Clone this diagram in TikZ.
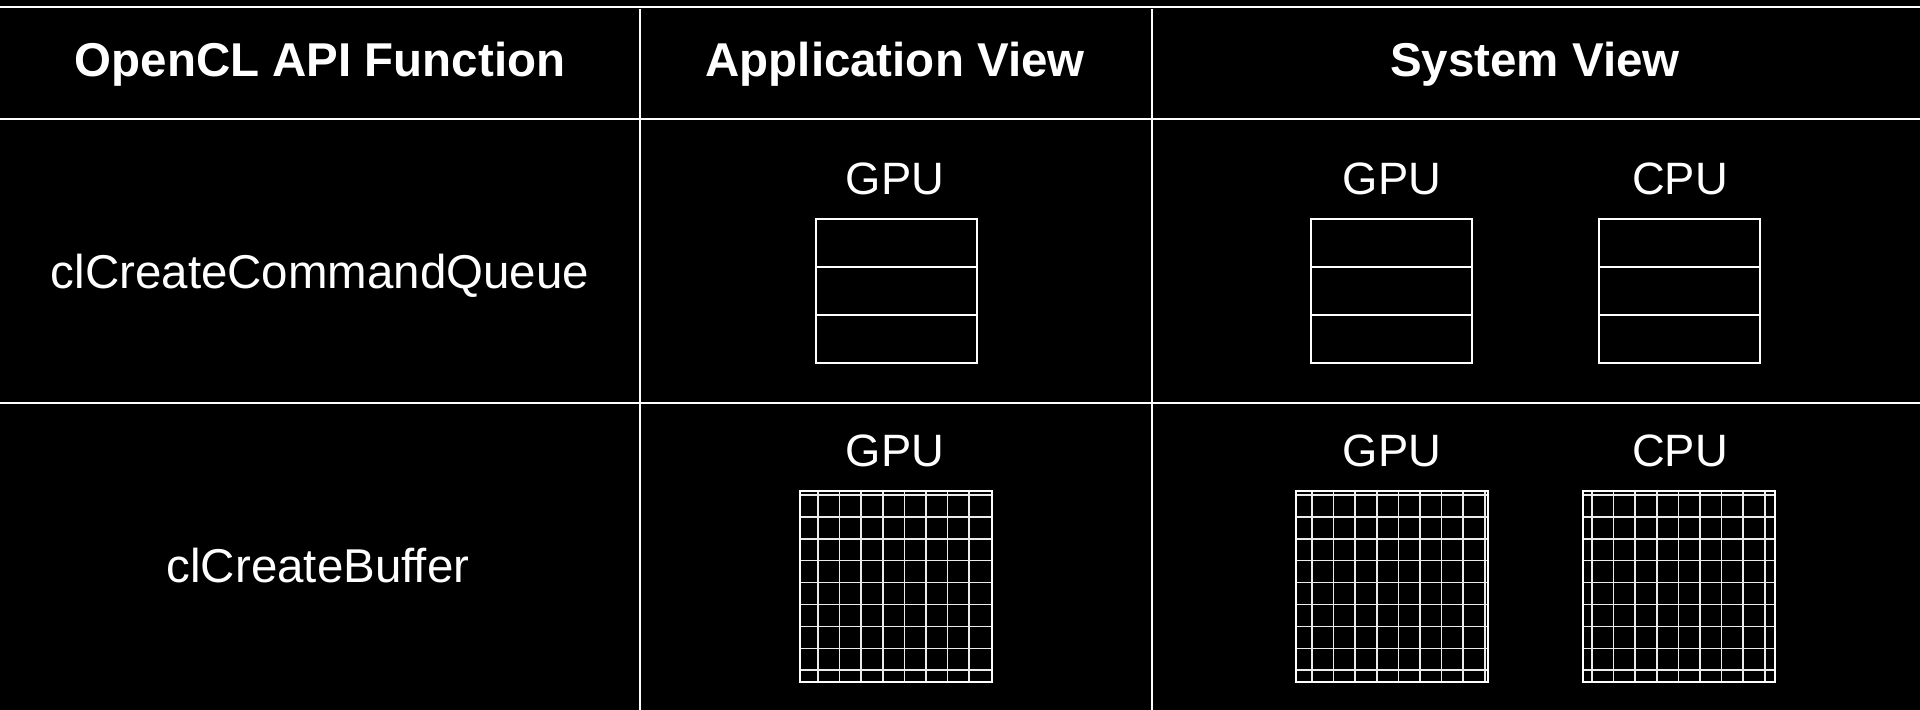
\documentclass[tikz,border=0pt]{standalone}
\usepackage{fontspec}
\setmainfont{Liberation Sans}
\usepackage{tikz}

\tikzset{
    tablerule/.style = {draw=white, line width=0.6pt},
    headtext/.style  = {text=white, anchor=base, inner sep=0pt, font=\fontsize{13.5}{16}\selectfont\bfseries},
    celltext/.style  = {text=white, anchor=base, inner sep=0pt, font=\fontsize{13.5}{16}\selectfont},
    devtext/.style   = {text=white, anchor=base, inner sep=0pt, font=\fontsize{12.9}{15}\selectfont},
    queuebox/.style  = {draw=white, line width=0.6pt},
    cellline/.style  = {draw=white!92!black, line width=0.45pt}
}

\begin{document}
\begin{tikzpicture}[x=0.01cm, y=-0.01cm]
    \useasboundingbox[fill=black] (0,0) rectangle (1920,710);

    % table rules
    \draw[tablerule] (0,7) -- (1920,7);
    \draw[tablerule] (0,119) -- (1920,119);
    \draw[tablerule] (0,403) -- (1920,403);
    \draw[tablerule] (640,9) -- (640,710);
    \draw[tablerule] (1152,9) -- (1152,710);

    % header
    \node[headtext] (hfunc) at (320,77) {OpenCL API Function};
    \node[headtext] (happ)  at (895,77) {Application View};
    \node[headtext] (hsys)  at (1535,77) {System View};

    % first column
    \node[celltext] (fqueue)  at (320,289) {clCreateCommandQueue};
    \node[celltext] (fbuffer) at (318,583) {clCreateBuffer};

    % device labels
    \node[devtext] (qapp) at (895,195) {GPU};
    \node[devtext] (qgpu) at (1392,195) {GPU};
    \node[devtext] (qcpu) at (1680,195) {CPU};
    \node[devtext] (bapp) at (895,467) {GPU};
    \node[devtext] (bgpu) at (1392,467) {GPU};
    \node[devtext] (bcpu) at (1680,467) {CPU};

    % command queues
    \foreach \bx in {816, 1311, 1599} {
        \draw[queuebox] (\bx,219) rectangle (\bx+161,363);
        \draw[queuebox] (\bx,267) -- (\bx+161,267);
        \draw[queuebox] (\bx,315) -- (\bx+161,315);
    }

    % buffers
    \foreach \gx/\off/\n in {800/18/7, 1296/16/8, 1583/9/8} {
        \foreach \k in {0,...,\n}
            \draw[cellline] ({\gx+\off+21.6*\k},491) -- ({\gx+\off+21.6*\k},682);
        \foreach \k in {0,...,8}
            \draw[cellline] (\gx,{495+21.9*\k}) -- (\gx+192,{495+21.9*\k});
        \draw[queuebox] (\gx,491) rectangle (\gx+192,682);
    }
\end{tikzpicture}
\end{document}
